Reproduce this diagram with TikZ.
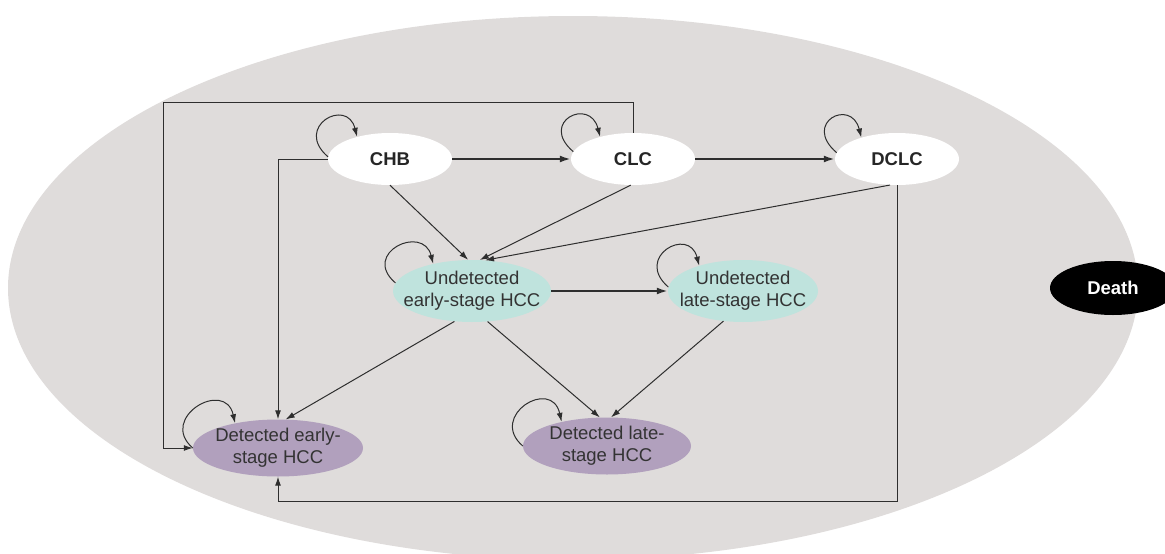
\documentclass[tikz,border=0pt]{standalone}
\usepackage{fontspec}
\setmainfont{Liberation Sans}
\usetikzlibrary{shapes.geometric,arrows.meta,calc}
\definecolor{bgell}{HTML}{DFDCDB}
\definecolor{undet}{HTML}{BFE3DD}
\definecolor{det}{HTML}{B1A0BD}
\definecolor{txt}{HTML}{333333}
\definecolor{ln}{HTML}{2E2E2E}
\begin{document}
\begin{tikzpicture}[x=1pt,y=-1pt,
  statebox/.style={ellipse, inner xsep=-40pt, inner ysep=-12pt, align=center,
    font=\fontsize{18.5}{22}\selectfont, text=txt},
  topbox/.style={statebox, fill=white, minimum width=124pt, minimum height=52pt, font=\fontsize{18.5}{22}\selectfont\bfseries, text=black!85},
  undetbox/.style={statebox, fill=undet, minimum height=62pt},
  detbox/.style={statebox, fill=det, minimum height=57pt},
  arr/.style={draw=ln, line width=1pt, -{Latex[length=9pt,width=6pt]}},
  thickarr/.style={arr, line width=2pt, -{Latex[length=11pt,width=7pt]}}]
\useasboundingbox (0,0) rectangle (1165,554);
\fill[bgell] (573,288) ellipse [x radius=565, y radius=272];

\node[topbox] (chb) at (390,159) {CHB};
\node[topbox] (clc) at (633,159) {CLC};
\node[topbox] (dclc) at (897,159) {DCLC};
\node[undetbox, minimum width=158pt] (ue) at (472,291) {Undetected\\early-stage HCC};
\node[undetbox, minimum width=150pt] (ul) at (743,291) {Undetected\\late-stage HCC};
\node[detbox, minimum width=170pt] (de) at (278,448) {Detected early-\\stage HCC};
\node[detbox, minimum width=168pt] (dl) at (607,446) {Detected late-\\stage HCC};
\node[ellipse, fill=black, text=white, minimum width=126pt, minimum height=54pt, inner sep=0pt,
  font=\fontsize{18.5}{22}\selectfont\bfseries] (death) at (1113,288) {Death};

\coordinate (tl) at (163,102);
\coordinate (lowrow) at (0,501);

% self loops
\draw[arr] (chb.178) .. controls +(-35,-30) and +(-10,-40) .. (chb.146);
\draw[arr] (clc.173) .. controls +(-35,-30) and +(-10,-40) .. (clc.146);
\draw[arr] (dclc.174) .. controls +(-35,-30) and +(-10,-40) .. (dclc.149);
\draw[arr] (ue.174) .. controls +(-35,-30) and +(-10,-40) .. (ue.145);
\draw[arr] (ul.177) .. controls +(-35,-30) and +(-10,-40) .. (ul.150);
\draw[arr] (de.180) .. controls +(-35,-30) and +(-10,-45) .. (de.150);
\draw[arr] (dl.180) .. controls +(-35,-30) and +(-10,-45) .. (dl.152);

% main transitions
\draw[thickarr] (chb.east) -- (clc.west);
\draw[thickarr] (clc.east) -- (dclc.west);
\draw[thickarr] (ue.east) -- (ul.west);
\draw[arr] (chb.south) -- (ue.97);
\draw[arr] (clc.265) -- (ue.76);
\draw[arr] (dclc.255) -- (ue.67);
\draw[arr] (ue.240) -- (de.75);
\draw[arr] (ue.297) -- (dl.104);
\draw[arr] (ul.237) -- (dl.82);

% orthogonal connectors to detected early-stage HCC
\draw[arr] (chb.west) -| (de.north);
\draw[arr] (clc.north) |- (tl) |- (de.west);
\draw[arr] (dclc.south) -- (dclc.south |- lowrow) -| (de.south);
\end{tikzpicture}
\end{document}
